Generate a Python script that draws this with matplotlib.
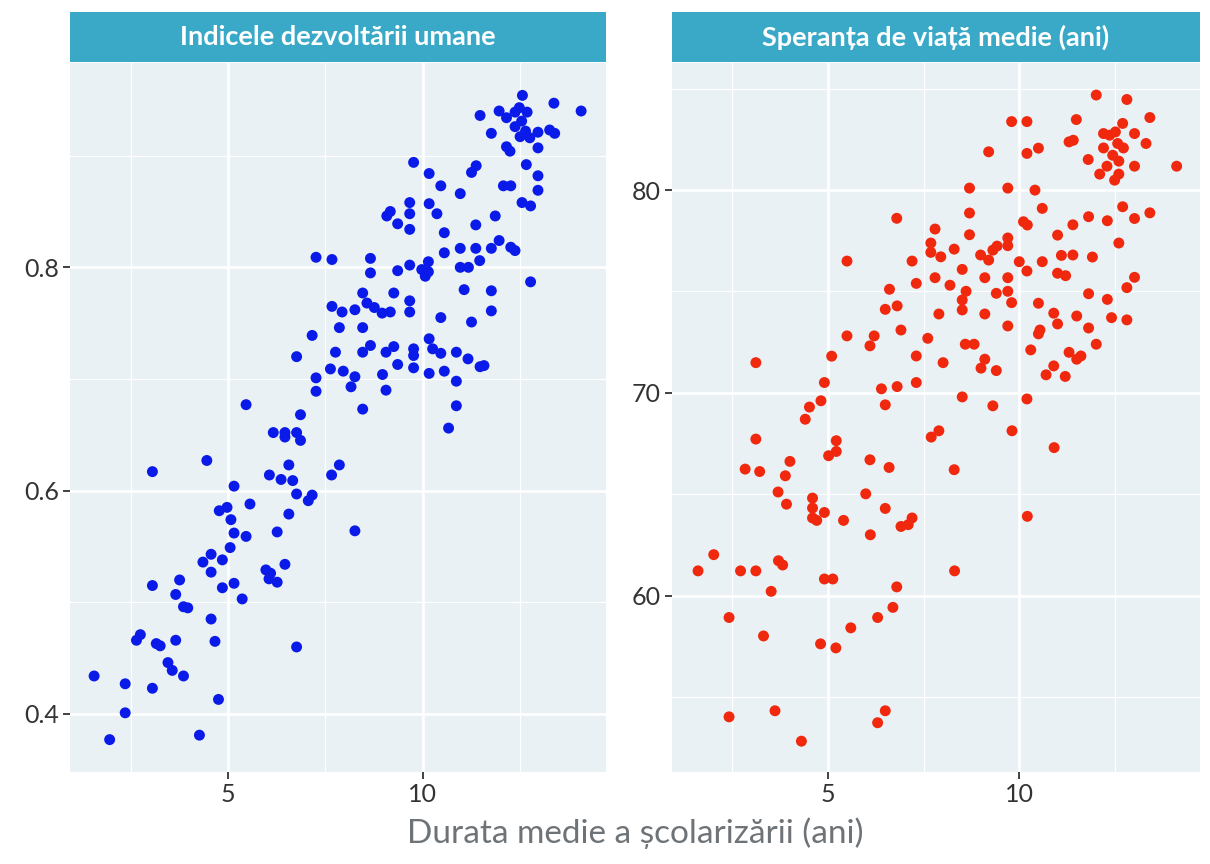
#!/usr/bin/env python3
# -*- coding: utf-8 -*-
import numpy as np
import matplotlib
matplotlib.use('Agg')
import matplotlib.pyplot as plt
from matplotlib.ticker import FixedLocator

#!----------------------------------------------------------------------
#!	DATA  (mean years of schooling vs. HDI / life expectancy)
#!----------------------------------------------------------------------
hdi_school = [12.57, 13.38, 14.08, 11.48, 11.97, 12.16, 12.38, 12.49, 12.69, 12.38,
	12.55, 12.65, 12.51, 12.76, 12.97, 13.27, 13.40, 11.77, 12.16, 12.25,
	12.97, 9.77, 10.17, 10.47, 10.97, 11.26, 11.38, 12.08, 12.27, 12.67,
	12.97, 12.97, 12.56, 12.78, 9.08, 9.17, 9.67, 9.67, 9.36, 9.67,
	10.17, 10.37, 10.56, 11.37, 11.87, 10.56, 10.97, 11.37, 11.77, 11.97,
	12.27, 12.38, 11.47, 7.67, 8.66, 8.66, 9.36, 9.67, 9.98, 10.15,
	10.07, 10.15, 10.97, 11.18, 12.78, 11.07, 11.77, 11.77, 11.26, 10.47,
	8.46, 9.26, 9.67, 9.67, 7.67, 7.93, 8.26, 8.57, 8.76, 8.96,
	9.17, 7.86, 8.46, 7.76, 8.46, 8.66, 9.06, 9.26, 9.77, 9.77,
	10.17, 10.26, 10.47, 10.87, 11.17, 11.48, 11.58, 9.36, 9.77, 10.17,
	10.56, 10.87, 7.96, 8.26, 8.16, 8.97, 9.06, 10.87, 8.46, 7.63,
	7.26, 7.16, 6.76, 7.26, 7.26, 5.46, 6.86, 6.16, 6.46, 6.46,
	6.76, 6.86, 10.67, 4.45, 6.56, 7.86, 7.66, 6.06, 6.36, 6.66,
	5.15, 6.76, 7.16, 7.06, 5.56, 4.77, 4.97, 5.07, 6.56, 5.15,
	5.46, 6.26, 8.26, 3.05, 5.05, 4.56, 4.85, 4.35, 4.56, 6.46,
	5.97, 6.09, 6.05, 6.26, 3.05, 3.75, 3.65, 3.85, 3.96, 4.85,
	5.15, 5.36, 4.56, 4.66, 6.76, 2.74, 2.64, 3.15, 3.25, 3.65,
	3.45, 3.56, 3.85, 1.55, 2.35, 3.05, 4.75, 2.35, 1.95, 4.26]
hdi_value = [0.954, 0.947, 0.940, 0.936, 0.940, 0.934, 0.939, 0.943, 0.939, 0.926,
	0.931, 0.922, 0.917, 0.916, 0.921, 0.923, 0.920, 0.920, 0.908, 0.904,
	0.907, 0.894, 0.884, 0.873, 0.866, 0.885, 0.891, 0.873, 0.873, 0.892,
	0.882, 0.869, 0.858, 0.855, 0.846, 0.850, 0.858, 0.848, 0.839, 0.834,
	0.857, 0.848, 0.831, 0.838, 0.846, 0.813, 0.817, 0.817, 0.817, 0.824,
	0.818, 0.815, 0.806, 0.807, 0.808, 0.795, 0.797, 0.802, 0.798, 0.805,
	0.792, 0.796, 0.800, 0.800, 0.787, 0.780, 0.779, 0.761, 0.751, 0.755,
	0.777, 0.777, 0.770, 0.760, 0.765, 0.760, 0.762, 0.768, 0.764, 0.759,
	0.760, 0.746, 0.746, 0.724, 0.724, 0.730, 0.724, 0.729, 0.727, 0.721,
	0.736, 0.727, 0.723, 0.724, 0.718, 0.711, 0.712, 0.713, 0.710, 0.705,
	0.707, 0.698, 0.707, 0.702, 0.693, 0.704, 0.690, 0.676, 0.673, 0.709,
	0.809, 0.739, 0.720, 0.701, 0.689, 0.677, 0.668, 0.652, 0.652, 0.648,
	0.652, 0.645, 0.656, 0.627, 0.623, 0.623, 0.614, 0.614, 0.610, 0.609,
	0.604, 0.597, 0.596, 0.591, 0.588, 0.582, 0.585, 0.574, 0.579, 0.562,
	0.559, 0.563, 0.564, 0.617, 0.549, 0.543, 0.538, 0.536, 0.527, 0.534,
	0.529, 0.526, 0.521, 0.518, 0.515, 0.520, 0.507, 0.496, 0.495, 0.513,
	0.517, 0.503, 0.485, 0.465, 0.460, 0.471, 0.466, 0.463, 0.461, 0.466,
	0.446, 0.439, 0.434, 0.434, 0.427, 0.423, 0.413, 0.401, 0.377, 0.381]

life_school = [12.01, 12.81, 13.41, 11.49, 9.80, 10.20, 12.70, 12.20, 12.36, 12.51,
	13.01, 13.31, 11.30, 11.41, 10.50, 10.20, 9.20, 12.20, 12.57, 12.72,
	12.44, 12.60, 11.80, 13.01, 14.11, 12.29, 12.10, 12.60, 12.49, 8.70,
	9.70, 10.41, 10.60, 8.70, 11.81, 12.30, 12.70, 13.01, 13.41, 7.80,
	10.11, 10.21, 11.40, 8.70, 11.00, 12.60, 7.69, 7.69, 7.95, 8.30,
	8.99, 9.20, 9.31, 9.42, 9.70, 9.70, 10.00, 10.60, 10.20, 11.10,
	11.40, 11.91, 11.00, 11.21, 13.01, 12.81, 7.20, 7.31, 7.80, 8.19,
	8.51, 9.10, 9.70, 8.61, 8.51, 8.51, 9.40, 9.70, 9.80, 7.90,
	9.10, 9.70, 10.50, 10.90, 11.00, 11.50, 11.81, 12.30, 12.41, 12.81,
	11.81, 12.01, 7.61, 8.59, 8.82, 10.54, 10.50, 10.30, 11.30, 11.50,
	11.61, 9.10, 9.00, 9.40, 8.01, 7.31, 10.90, 10.70, 11.20, 7.31,
	8.51, 10.20, 9.31, 6.80, 5.50, 6.61, 6.50, 6.81, 5.50, 6.21,
	6.10, 6.91, 5.10, 3.12, 6.81, 6.40, 6.50, 4.91, 4.82, 4.52,
	4.41, 9.81, 7.70, 7.90, 8.30, 3.12, 5.22, 5.02, 5.22, 6.10,
	6.60, 4.01, 3.89, 2.84, 3.22, 3.70, 4.60, 5.99, 3.92, 4.60,
	4.60, 4.71, 4.91, 5.41, 6.50, 6.11, 6.91, 7.10, 7.20, 2.02,
	1.61, 2.72, 3.12, 3.71, 3.82, 3.52, 4.91, 5.13, 6.80, 8.31,
	6.70, 6.30, 5.60, 4.81, 5.21, 2.42, 3.32, 2.42, 3.62, 6.50,
	6.30, 4.31, 10.91, 10.21]
life_value = [84.69, 84.47, 83.58, 83.48, 83.38, 83.38, 83.29, 82.79, 82.71, 82.87,
	82.79, 82.30, 82.38, 82.46, 82.07, 81.81, 81.89, 82.08, 82.30, 82.08,
	81.72, 81.43, 81.51, 81.18, 81.18, 81.18, 80.79, 80.79, 80.49, 80.10,
	80.10, 80.00, 79.10, 78.87, 78.69, 78.49, 79.18, 78.60, 78.88, 78.08,
	78.44, 78.28, 78.29, 77.80, 77.78, 77.39, 77.39, 76.93, 76.71, 77.09,
	76.80, 76.55, 77.04, 77.24, 77.64, 77.26, 76.47, 76.47, 76.01, 76.78,
	76.80, 76.70, 75.90, 75.78, 75.70, 75.19, 76.50, 75.40, 75.68, 75.31,
	76.09, 75.68, 75.68, 75.01, 74.58, 74.09, 74.91, 75.01, 74.45, 73.89,
	73.89, 73.30, 74.42, 73.93, 73.40, 73.79, 74.89, 74.61, 73.71, 73.60,
	73.20, 72.40, 72.69, 72.40, 72.40, 73.10, 72.91, 72.12, 72.00, 71.66,
	71.82, 71.66, 71.22, 71.10, 71.49, 71.82, 71.33, 70.89, 70.81, 70.51,
	69.80, 69.70, 69.36, 78.61, 76.50, 75.11, 74.12, 74.29, 72.81, 72.81,
	72.32, 73.10, 71.81, 71.49, 70.31, 70.20, 69.41, 70.51, 69.61, 69.30,
	68.70, 68.13, 67.82, 68.13, 66.21, 67.72, 67.64, 66.90, 67.11, 66.70,
	66.32, 66.62, 65.91, 66.24, 66.12, 65.11, 64.81, 65.02, 64.51, 64.32,
	63.83, 63.71, 64.10, 63.71, 64.30, 63.00, 63.41, 63.50, 63.83, 62.02,
	61.22, 61.22, 61.22, 61.72, 61.51, 60.21, 60.82, 60.82, 60.43, 61.22,
	59.42, 58.92, 58.41, 57.62, 57.42, 58.92, 58.01, 54.02, 54.32, 54.32,
	53.73, 52.82, 67.30, 63.91]

titles = ["Indicele dezvoltării umane", "Speranța de viață medie (ani)"]
x_label = "Durata medie a școlarizării (ani)"

#!----------------------------------------------------------------------
#!	PLOT
#!----------------------------------------------------------------------
plt.rcParams['font.family'] = ['Lato', 'DejaVu Sans']

panel_bg = '#e9f1f5'
strip_bg = '#39a9c7'
tick_col = '#333333'

fig = plt.figure(figsize=(12.1, 8.64), dpi=100)

W, H = 1210.0, 864.0
panels = [
	dict(left=70, right=606, x=hdi_school, y=hdi_value, col='#0a1ae8',
		ylim=(0.348, 0.983), major=[0.4, 0.6, 0.8], minor=[0.5, 0.7, 0.9], fmt='%.1f'),
	dict(left=672, right=1200, x=life_school, y=life_value, col='#f0280e',
		ylim=(51.3, 86.27), major=[60, 70, 80], minor=[55, 65, 75, 85], fmt='%d'),
]
top_px, bot_px = 63, 772
strip_top, strip_bot = 12, 62

for p, title in zip(panels, titles):
	ax = fig.add_axes([p['left']/W, 1 - bot_px/H, (p['right']-p['left'])/W, (bot_px-top_px)/H])
	ax.set_facecolor(panel_bg)
	ax.scatter(p['x'], p['y'], s=62, color=p['col'], edgecolors='none', zorder=3)
	ax.set_xlim(0.93, 14.72)
	ax.set_ylim(*p['ylim'])
	ax.xaxis.set_major_locator(FixedLocator([5, 10]))
	ax.xaxis.set_minor_locator(FixedLocator([2.5, 7.5, 12.5]))
	ax.yaxis.set_major_locator(FixedLocator(p['major']))
	ax.yaxis.set_minor_locator(FixedLocator(p['minor']))
	ax.set_yticklabels([p['fmt'] % v for v in p['major']])
	ax.grid(which='major', color='white', lw=1.9, zorder=1)
	ax.grid(which='minor', color='white', lw=0.9, zorder=1)
	ax.set_axisbelow(True)
	for s in ax.spines.values():
		s.set_visible(False)
	ax.tick_params(which='major', length=5, width=1.3, color=tick_col,
		labelsize=18, labelcolor='#333333', pad=3)
	ax.tick_params(which='minor', length=0)

	sx = fig.add_axes([p['left']/W, 1 - strip_bot/H, (p['right']-p['left'])/W, (strip_bot-strip_top)/H])
	sx.set_facecolor(strip_bg)
	sx.set_xticks([])
	sx.set_yticks([])
	for s in sx.spines.values():
		s.set_visible(False)
	sx.text(0.5, 0.5, title, color='white', fontsize=19.5, fontweight='bold',
		ha='center', va='center', transform=sx.transAxes)

fig.text(635/W, 1 - 833/H, x_label, ha='center', va='center', fontsize=24, color='#6e7378')

plt.savefig('out.png', dpi=100)
